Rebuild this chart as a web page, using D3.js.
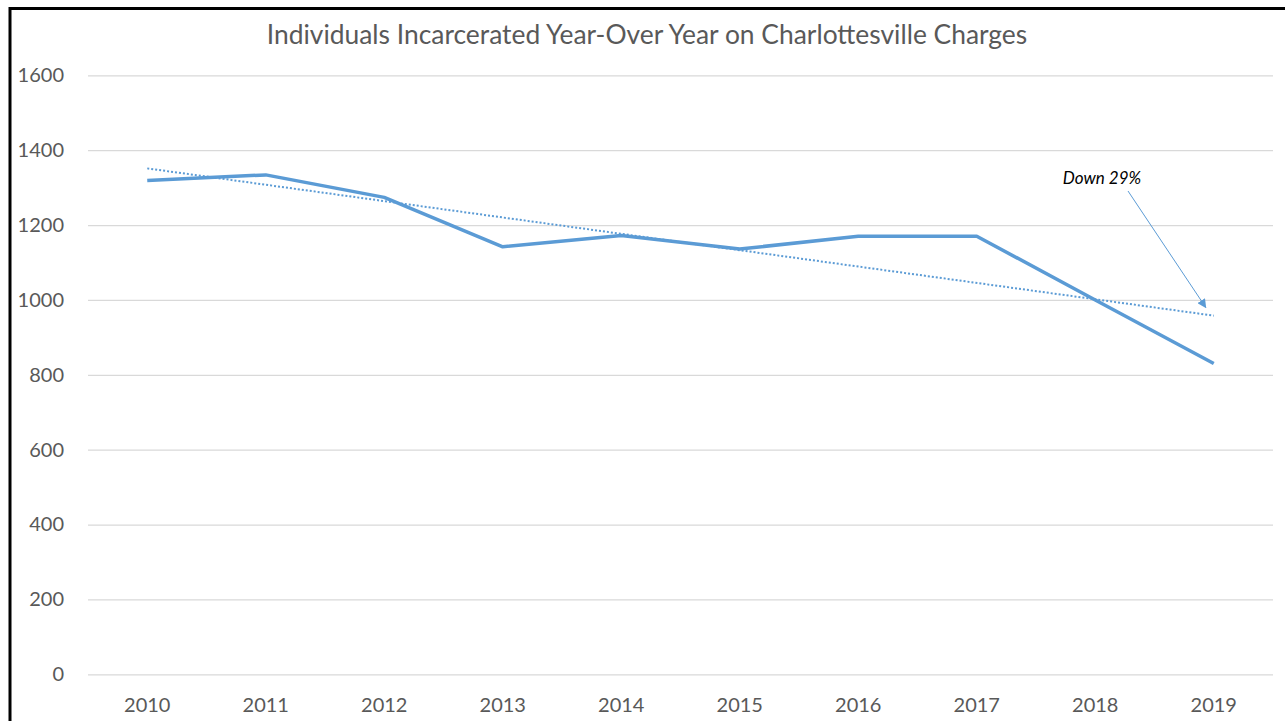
<!DOCTYPE html>
<html>
<head>
<meta charset="utf-8">
<script src="https://cdn.jsdelivr.net/npm/d3@7"></script>
<style>
    html, body { margin: 0; padding: 0; background: #fff; }
    svg { display: block; font-family: Lato, "Open Sans", sans-serif; }
    .tick text { fill: #595959; }
</style>
</head>
<body>
<div class="container"></div>
<script>
const years = ['2010', '2011', '2012', '2013', '2014', '2015', '2016', '2017', '2018', '2019'];
const incarcerated = [1319, 1334, 1274, 1142, 1172, 1136, 1170, 1170, 1000, 830];
const yTicks = [0, 200, 400, 600, 800, 1000, 1200, 1400, 1600];
const chartTitle = 'Individuals Incarcerated Year-Over Year on Charlottesville Charges';
const noteText = 'Down 29%';

const drawChart = () => {
    const w = 1285,
        h = 721,
        padding = { top: 75.3, bottom: 46.7, left: 88, right: 12 },
        lineColor = '#5b9bd5';

    const xScale = d3.scaleBand()
        .domain(years)
        .range([padding.left, w - padding.right]);

    const yScale = d3.scaleLinear()
        .domain([0, 1600])
        .range([h - padding.bottom, padding.top]);

    const xPos = d => xScale(d) + xScale.bandwidth() / 2;

    const svg = d3.select('div.container')
        .append('svg')
        .attr('width', w)
        .attr('height', h);

    svg.append('defs')
        .append('marker')
        .attr('id', 'head')
        .attr('viewBox', '0 0 10 10')
        .attr('refX', 9).attr('refY', 5)
        .attr('markerWidth', 9).attr('markerHeight', 9)
        .attr('markerUnits', 'userSpaceOnUse')
        .attr('orient', 'auto')
        .append('path')
        .attr('d', 'M0,0 L10,5 L0,10 Z')
        .attr('fill', lineColor);

    // gridlines + y labels
    const yAxis = d3.axisLeft(yScale)
        .tickValues(yTicks)
        .tickFormat(d3.format('d'))
        .tickSize(-(w - padding.left - padding.right))
        .tickPadding(24);

    svg.append('g')
        .attr('id', 'y-axis')
        .attr('transform', 'translate(' + padding.left + ',0)')
        .call(yAxis)
        .call(g => g.select('.domain').remove())
        .call(g => g.selectAll('.tick line').attr('stroke', '#d9d9d9').attr('stroke-width', 1.3))
        .call(g => g.selectAll('.tick text').attr('font-size', 20).attr('font-family', 'Lato'));

    const xAxis = d3.axisBottom(xScale).tickSize(0).tickPadding(24);

    svg.append('g')
        .attr('id', 'x-axis')
        .attr('transform', 'translate(0,' + (h - padding.bottom) + ')')
        .call(xAxis)
        .call(g => g.select('.domain').remove())
        .call(g => g.selectAll('.tick text').attr('font-size', 20).attr('font-family', 'Lato'));

    // linear trendline from the series
    const n = incarcerated.length,
        mx = d3.mean(incarcerated, (d, i) => i),
        my = d3.mean(incarcerated),
        slope = d3.sum(incarcerated, (d, i) => (i - mx) * (d - my)) / d3.sum(incarcerated, (d, i) => (i - mx) * (i - mx)),
        trend = [0, n - 1].map(i => ({ year: years[i], v: my + slope * (i - mx) }));

    svg.append('path')
        .datum(trend)
        .attr('fill', 'none')
        .attr('stroke', lineColor)
        .attr('stroke-width', 2)
        .attr('stroke-dasharray', '2,2')
        .attr('d', d3.line().x(d => xPos(d.year)).y(d => yScale(d.v)));

    svg.append('path')
        .datum(incarcerated)
        .attr('fill', 'none')
        .attr('stroke', lineColor)
        .attr('stroke-width', 3.5)
        .attr('stroke-linejoin', 'round')
        .attr('d', d3.line().x((d, i) => xPos(years[i])).y(d => yScale(d)));

    svg.append('text')
        .attr('id', 'title')
        .attr('x', 647)
        .attr('y', 44)
        .attr('text-anchor', 'middle')
        .attr('font-size', 26.4)
        .attr('fill', '#595959')
        .text(chartTitle);

    // annotation
    svg.append('text')
        .attr('x', 1102)
        .attr('y', 184)
        .attr('text-anchor', 'middle')
        .attr('font-size', 17)
        .attr('font-style', 'italic')
        .attr('fill', '#000')
        .text(noteText);

    svg.append('line')
        .attr('x1', 1128).attr('y1', 191)
        .attr('x2', xPos('2019') - 8).attr('y2', yScale(980))
        .attr('stroke', lineColor)
        .attr('stroke-width', 1)
        .attr('marker-end', 'url(#head)');

    // frame
    svg.append('path')
        .attr('d', 'M10,' + h + ' L10,8.5 L' + w + ',8.5')
        .attr('fill', 'none')
        .attr('stroke', '#000')
        .attr('stroke-width', 3);
};

drawChart();
</script>
</body>
</html>
